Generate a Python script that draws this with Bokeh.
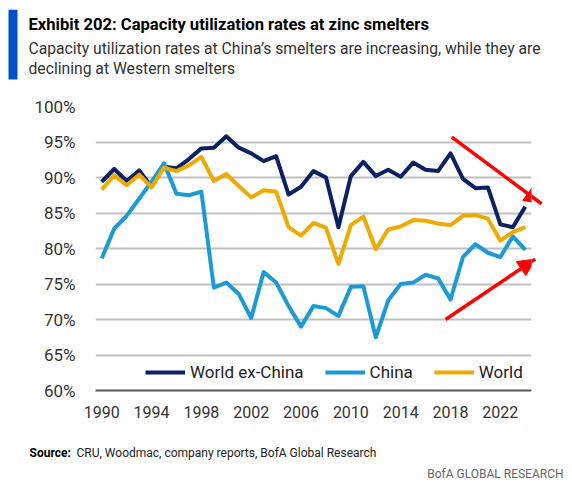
from bokeh.plotting import figure
from bokeh.models import (Arrow, NormalHead, FixedTicker, PrintfTickFormatter,
                          Range1d, Legend, LegendItem)
from bokeh.core.properties import value
from bokeh.embed import file_html
from bokeh.resources import INLINE

years = [1990, 1991, 1992, 1993, 1994, 1995, 1996, 1997, 1998, 1999,
         2000, 2001, 2002, 2003, 2004, 2005, 2006, 2007, 2008, 2009,
         2010, 2011, 2012, 2013, 2014, 2015, 2016, 2017, 2018, 2019,
         2020, 2021, 2022, 2023, 2024]

world_ex_china = [89.4, 91.2, 89.5, 91.0, 88.7, 91.5, 91.3, 92.6, 94.1, 94.2,
                  95.8, 94.2, 93.4, 92.3, 93.0, 87.6, 88.7, 90.9, 90.0, 83.0,
                  90.2, 92.2, 90.2, 91.1, 90.1, 92.1, 91.1, 90.9, 93.4, 89.8,
                  88.5, 88.6, 83.4, 83.0, 85.9]

china = [78.6, 82.8, 84.6, 87.0, 89.4, 92.0, 87.7, 87.5, 88.0, 74.5,
         75.2, 73.6, 70.2, 76.7, 75.2, 71.9, 69.0, 71.9, 71.6, 70.5,
         74.6, 74.7, 67.5, 72.7, 75.0, 75.2, 76.3, 75.8, 72.8, 78.8,
         80.6, 79.4, 78.8, 81.7, 79.8]

world = [88.3, 90.3, 88.9, 90.4, 88.6, 91.4, 90.9, 91.7, 92.9, 89.5,
         90.5, 88.8, 87.2, 88.2, 88.0, 83.0, 81.8, 83.6, 82.9, 77.8,
         83.3, 84.5, 79.9, 82.7, 83.1, 84.0, 83.9, 83.5, 83.3, 84.6,
         84.7, 84.2, 81.1, 82.3, 83.0]

series_names = ["World ex-China", "China", "World"]
series_colors = ["#0B2164", "#1B9AD6", "#EEAA00"]

x_ticks = [1990, 1994, 1998, 2002, 2006, 2010, 2014, 2018, 2022]
y_ticks = [60, 65, 70, 75, 80, 85, 90, 95, 100]

# arrow endpoints (year, %)
arrow_down = [(2018.1, 95.7), (2025.3, 86.3)]
arrow_up = [(2017.6, 70.0), (2024.8, 78.5)]

title_text = "Exhibit 202: Capacity utilization rates at zinc smelters"
subtitle_lines = ["Capacity utilization rates at China\u2019s smelters are increasing, while they are",
                  "declining at Western smelters"]
source_label = "Source:"
source_text = "CRU, Woodmac, company reports, BofA Global Research"
brand_text = "BofA GLOBAL RESEARCH"

FONT = "Roboto"
W = 564


def blank_fig(h):
    f = figure(width=W, height=h, output_backend="svg", toolbar_location=None,
               x_range=Range1d(0, W), y_range=Range1d(h, 0),
               x_axis_type=None, y_axis_type=None, min_border=0)
    f.grid.visible = False
    f.outline_line_color = None
    f.background_fill_color = "white"
    f.border_fill_color = "white"
    return f


# ---- header ----
header = blank_fig(86)
header.quad(left=[8], right=[17], top=[9.3], bottom=[79], fill_color="#0050C8",
            line_color=None)
header.text(x=[28], y=[24], text=[title_text], text_font=value(FONT),
            text_font_style="bold", text_font_size="16.6px", text_color="#000000",
            text_baseline="middle")
header.text(x=[28, 28], y=[48.3, 68.3], text=subtitle_lines, text_font=value(FONT),
            text_font_size="15.7px", text_color="#333333", text_baseline="middle")

# ---- chart ----
p = figure(width=W, height=350, output_backend="svg", toolbar_location=None,
           x_range=Range1d(1989.5, 2024.5), y_range=Range1d(60, 100),
           min_border_left=95, min_border_right=33, min_border_top=20,
           min_border_bottom=46)
p.outline_line_color = None
p.background_fill_color = "white"
p.border_fill_color = "white"

renderers = []
for vals, color in zip([world_ex_china, china, world], series_colors):
    r = p.line(years, vals, line_color=color, line_width=4, line_join="round")
    renderers.append(r)

p.xaxis.ticker = FixedTicker(ticks=x_ticks)
p.yaxis.ticker = FixedTicker(ticks=y_ticks)
p.yaxis.formatter = PrintfTickFormatter(format="%d%%")
for ax in [p.xaxis[0], p.yaxis[0]]:
    ax.major_tick_line_color = None
    ax.minor_tick_line_color = None
    ax.major_tick_out = 0
    ax.major_tick_in = 0
    ax.major_label_text_font = FONT
    ax.major_label_text_color = "#333333"
p.yaxis.axis_line_color = None
p.yaxis.major_label_text_font_size = "17px"
p.yaxis.major_label_standoff = 20
p.xaxis.major_label_text_font_size = "16px"
p.xaxis.major_label_standoff = 15
p.xaxis.axis_line_color = "#595959"
p.xaxis.axis_line_width = 2

p.xgrid.grid_line_color = None
p.ygrid.grid_line_color = "#C0C0C0"
p.ygrid.grid_line_width = 2

legend = Legend(items=[LegendItem(label=n, renderers=[r]) for n, r in zip(series_names, renderers)],
                orientation="horizontal", location=(50, 8),
                glyph_width=40, glyph_height=20, label_height=20,
                label_standoff=5, spacing=21, padding=0, margin=0,
                border_line_color=None, background_fill_alpha=0,
                label_text_font=FONT, label_text_font_size="17px",
                label_text_color="#222222")
p.add_layout(legend, "center")

for (xs, ys), (xe, ye) in [arrow_down, arrow_up]:
    p.add_layout(Arrow(end=NormalHead(size=17, fill_color="#FF0000", line_color="#FF0000"),
                       x_start=xs, y_start=ys, x_end=xe, y_end=ye,
                       line_color="#FF0000", line_width=3.5))

# ---- footer ----
footer = blank_fig(44)
footer.text(x=[29], y=[16], text=[source_label], text_font=value(FONT),
            text_font_style="bold", text_font_size="12px", text_color="#000000",
            text_baseline="middle")
footer.text(x=[76], y=[16], text=[source_text], text_font=value(FONT),
            text_font_size="12px", text_color="#222222", text_baseline="middle")
footer.text(x=[563], y=[37], text=[brand_text], text_font=value(FONT),
            text_font_size="12px", text_color="#666666", text_align="right",
            text_baseline="middle")

open("out.html", "w").write(file_html([header, p, footer], INLINE))
